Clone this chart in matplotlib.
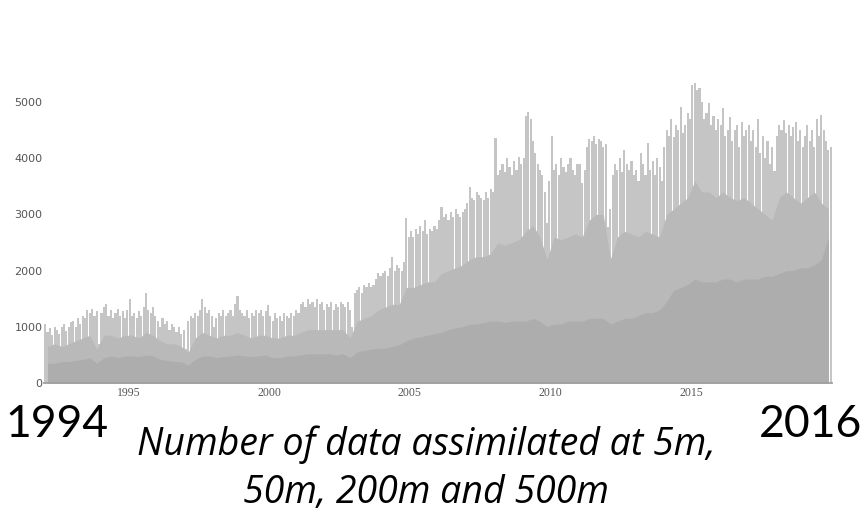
import numpy as np
import matplotlib
matplotlib.use("Agg")
import matplotlib.pyplot as plt

### Data
# monthly peaks of the lightest layer, 1992-2019
top_peaks = [
    1050, 900, 980, 850, 1000, 950, 880, 1000, 1050, 920, 1000, 1080,      # 1992
    1100, 1000, 1150, 1050, 1200, 1150, 1300, 1250, 1320, 1200, 1280, 700,  # 1993
    1250, 1350, 1400, 1200, 1300, 1150, 1250, 1320, 1200, 1280, 1150, 1300, # 1994
    1500, 1200, 1250, 1150, 1280, 1200, 1350, 1600, 1300, 1250, 1350, 1200, # 1995
    1100, 1000, 1150, 1050, 1100, 950, 1050, 1000, 900, 1000, 880, 950,     # 1996
    600, 1100, 1200, 1150, 1250, 1200, 1300, 1500, 1350, 1250, 1300, 1200,  # 1997
    1000, 1150, 1250, 1200, 1300, 1200, 1250, 1300, 1200, 1400, 1550, 1300, # 1998
    1250, 1200, 1300, 1150, 1250, 1200, 1300, 1250, 1300, 1200, 1280, 1390, # 1999
    1200, 1100, 1250, 1150, 1200, 1100, 1250, 1200, 1150, 1250, 1200, 1300, # 2000
    1250, 1400, 1450, 1350, 1500, 1400, 1450, 1350, 1500, 1400, 1450, 1300, # 2001
    1400, 1350, 1450, 1300, 1400, 1350, 1450, 1400, 1350, 1450, 1300, 1000, # 2002
    1600, 1650, 1700, 1600, 1750, 1700, 1780, 1700, 1750, 1850, 1950, 1900, # 2003
    1950, 2000, 1900, 2050, 2240, 2000, 2100, 2050, 2000, 2150, 2940, 2600, # 2004
    2700, 2600, 2750, 2650, 2800, 2700, 2900, 2650, 2750, 2700, 2800, 2750, # 2005
    2900, 3130, 2950, 3000, 2900, 3050, 2950, 3100, 3000, 2950, 3050, 3100, # 2006
    3200, 3490, 3300, 3250, 3400, 3350, 3300, 3250, 3400, 3300, 3450, 3400, # 2007
    4360, 3700, 3800, 3900, 3750, 4000, 3850, 3700, 3950, 3800, 4020, 3900, # 2008
    4000, 4750, 4820, 4700, 4300, 4100, 3900, 3800, 3700, 3400, 2850, 3600, # 2009
    4400, 3800, 3900, 3700, 4000, 3850, 3750, 3900, 4000, 3800, 3700, 3900, # 2010
    3900, 3560, 3800, 4200, 4350, 4300, 4400, 4250, 4350, 4300, 4200, 4250, # 2011
    2780, 3100, 3700, 3900, 3800, 4000, 3750, 4140, 3900, 3800, 3950, 3700, # 2012
    3800, 3600, 4100, 3900, 3700, 4270, 3800, 3950, 3700, 4000, 3850, 3600, # 2013
    4200, 4500, 4400, 4700, 4380, 4600, 4500, 4910, 4450, 4600, 4800, 4700, # 2014
    5300, 5340, 5210, 5250, 5000, 4700, 4800, 4980, 4600, 4750, 4500, 4700, # 2015
    4600, 4900, 4400, 4500, 4730, 4300, 4500, 4600, 4200, 4650, 4400, 4500, # 2016
    4600, 4300, 4500, 4200, 4700, 4100, 4400, 4000, 4300, 3900, 4200, 3770, # 2017
    4400, 4600, 4500, 4680, 4450, 4600, 4390, 4550, 4650, 4300, 4500, 4200, # 2018
    4400, 4600, 4300, 4500, 4200, 4700, 4400, 4770, 4500, 4300, 4150, 4200, # 2019
]

# quarterly level of the middle layer
mid_level = [
    650, 700, 650, 700,     750, 800, 850, 600,
    850, 850, 800, 850,     850, 800, 900, 850,
    750, 700, 700, 650,     550, 800, 900, 850,
    800, 850, 850, 900,     850, 800, 850, 850,
    800, 800, 850, 850,     900, 950, 950, 950,
    950, 950, 950, 800,     1100, 1150, 1200, 1300,
    1350, 1400, 1400, 1700, 1700, 1750, 1800, 1800,
    1950, 2000, 2050, 2100, 2200, 2250, 2250, 2300,
    2500, 2450, 2500, 2550, 2700, 2800, 2600, 2200,
    2600, 2550, 2600, 2650, 2600, 2900, 3000, 3000,
    2200, 2600, 2700, 2650, 2600, 2700, 2650, 2600,
    3000, 3100, 3200, 3300, 3600, 3400, 3400, 3300,
    3400, 3300, 3250, 3300, 3200, 3100, 3000, 2900,
    3300, 3400, 3300, 3200, 3300, 3400, 3200, 3100,
]

# quarterly level of the darkest layer
bottom_level = [
    350, 350, 380, 380,     400, 420, 450, 350,
    450, 480, 450, 480,     480, 470, 500, 480,
    420, 400, 380, 380,     320, 420, 480, 480,
    450, 470, 480, 500,     480, 470, 480, 500,
    450, 450, 480, 480,     500, 520, 520, 520,
    520, 500, 520, 450,     550, 580, 600, 620,
    620, 650, 680, 750,     800, 820, 850, 880,
    900, 950, 980, 1000,    1050, 1050, 1080, 1100,
    1100, 1080, 1100, 1100, 1100, 1150, 1100, 1000,
    1050, 1050, 1100, 1100, 1100, 1150, 1150, 1150,
    1050, 1100, 1150, 1150, 1200, 1250, 1250, 1300,
    1450, 1650, 1700, 1750, 1850, 1800, 1800, 1800,
    1850, 1850, 1800, 1850, 1850, 1850, 1900, 1900,
    1950, 2000, 2000, 2050, 2050, 2100, 2200, 2600,
]

start_year = 1992
year_ticks = [1995, 2000, 2005, 2010, 2015]
y_ticks = [0, 1000, 2000, 3000, 4000, 5000]
caption = "Number of data assimilated at 5m,\n50m, 200m and 500m"

### Plot
months = start_year + (np.arange(len(top_peaks)) + 0.5) / 12.
quarters = start_year + (np.arange(len(mid_level)) + 0.5) / 4.

fig = plt.figure(figsize=(8.65, 5.15), dpi=100)
ax = fig.add_axes([0.0509, 0.2563, 0.9109, 0.60])

ax.bar(months, top_peaks, width=0.9/12., color='#c5c5c5', linewidth=0)
ax.fill_between(quarters, mid_level, color='#b9b9b9', linewidth=0)
ax.fill_between(quarters, bottom_level, color='#adadad', linewidth=0)

ax.set_xlim(1992, 2020)
ax.set_ylim(0, 5500)
ax.set_xticks(year_ticks)
ax.set_yticks(y_ticks)
for s in ['top', 'right', 'left']:
    ax.spines[s].set_visible(False)
ax.spines['bottom'].set_color('#a0a0a0')
ax.spines['bottom'].set_linewidth(1.3)
ax.tick_params(axis='x', length=0, pad=3, labelcolor='#555555', labelsize=8.5)
ax.tick_params(axis='y', length=0, pad=1, labelcolor='#555555', labelsize=8)
for lab in ax.get_xticklabels():
    lab.set_family('Liberation Serif')
for lab in ax.get_yticklabels():
    lab.set_family('DejaVu Sans')

fig.text(0.006, 0.1515, '1994', fontsize=32, family='Lato', ha='left', va='baseline')
fig.text(0.9965, 0.1515, '2016', fontsize=32, family='Lato', ha='right', va='baseline')
lines = caption.split('\n')
fig.text(0.4925, 0.1165, lines[0], fontsize=27, family='Open Sans', style='italic',
         ha='center', va='baseline')
fig.text(0.4925, 0.0230, lines[1], fontsize=27, family='Open Sans', style='italic',
         ha='center', va='baseline')

fig.savefig('out.png', dpi=100)
